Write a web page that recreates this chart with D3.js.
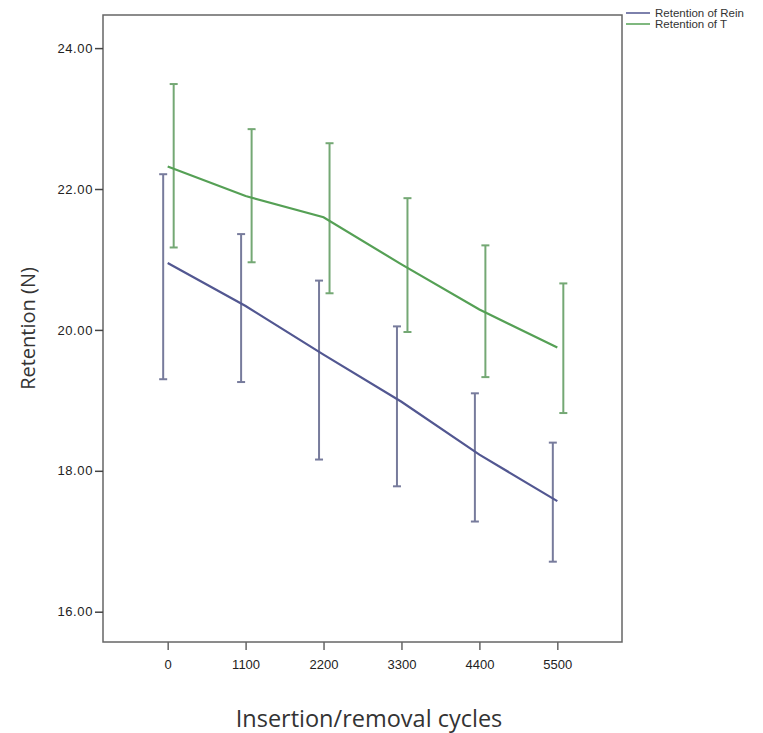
<!DOCTYPE html>
<html>
<head>
<meta charset="utf-8">
<script src="https://cdn.jsdelivr.net/npm/d3@7"></script>
<style>
    body { margin: 0; background: #fff; }
    svg { display: block; }
</style>
</head>
<body>
<div id="vis"></div>
<script>
// data
var cycles = ["0", "1100", "2200", "3300", "4400", "5500"];
var seriesNames = ["Retention of Rein", "Retention of T"];

var reinMean  = [20.95, 20.34, 19.65, 18.98, 18.23, 17.57];
var reinLower = [19.30, 19.26, 18.16, 17.78, 17.28, 16.71];
var reinUpper = [22.21, 21.36, 20.70, 20.05, 19.10, 18.40];

var tMean  = [22.32, 21.90, 21.60, 20.93, 20.29, 19.75];
var tLower = [21.17, 20.96, 20.52, 19.97, 19.33, 18.82];
var tUpper = [23.49, 22.85, 22.65, 21.87, 21.20, 20.66];

var yTicks = [16, 18, 20, 22, 24];

function drawChart() {
    var w = 763;
    var h = 733;
    var margin = {top: 15, right: 141, bottom: 91, left: 103};

    var svg = d3.select("#vis")
                .append("svg")
                .attr("width", w)
                .attr("height", h);

    var plotW = w - margin.left - margin.right;
    var plotH = h - margin.top - margin.bottom;

    var xScale = d3.scalePoint()
                    .domain(cycles)
                    .range([0, plotW])
                    .padding(0.83);

    var yScale = d3.scaleLinear()
                    .domain([15.57, 24.47])
                    .range([plotH, 0]);

    var colors = ["#525791", "#55a055"];
    var barColors = ["#777b9c", "#74a874"];
    var offsets = [-4.5, 6];   // error bars sit a little apart

    var series = [
        {name: seriesNames[0], mean: reinMean, lo: reinLower, hi: reinUpper},
        {name: seriesNames[1], mean: tMean, lo: tLower, hi: tUpper}
    ];

    var g = svg.append("g")
                .attr("transform", "translate(" + margin.left + "," + margin.top + ")");

//frame
    g.append("rect")
        .attr("width", plotW)
        .attr("height", plotH)
        .attr("fill", "none")
        .attr("stroke", "#666")
        .attr("stroke-width", 1.5);

//y axis
    var yAxis = g.append("g")
                .call(d3.axisLeft(yScale)
                        .tickValues(yTicks)
                        .tickSize(8)
                        .tickFormat(d3.format(".2f")));
    yAxis.select(".domain").remove();
    yAxis.selectAll("line").attr("stroke", "#444").attr("stroke-width", 1.5);
    yAxis.selectAll("text")
            .attr("x", -10)
            .attr("fill", "#222")
            .style("font-family", "Liberation Sans, Arial, sans-serif")
            .style("font-size", "13px")
            .style("letter-spacing", "0.6px");

//x axis
    var xAxis = g.append("g")
                .attr("transform", "translate(0," + plotH + ")")
                .call(d3.axisBottom(xScale).tickSize(8));
    xAxis.select(".domain").remove();
    xAxis.selectAll("line").attr("stroke", "#666").attr("stroke-width", 1.5);
    xAxis.selectAll("text")
            .attr("y", 18)
            .attr("fill", "#222")
            .style("font-family", "Liberation Sans, Arial, sans-serif")
            .style("font-size", "13px");

//error bars
    series.forEach(function(s, k) {
        var bars = g.append("g")
                    .selectAll("g")
                    .data(cycles)
                    .enter()
                    .append("g")
                    .attr("stroke", barColors[k])
                    .attr("stroke-width", 2);

        bars.append("line")
            .attr("x1", function(d) { return xScale(d) + offsets[k]; })
            .attr("x2", function(d) { return xScale(d) + offsets[k]; })
            .attr("y1", function(d, i) { return yScale(s.hi[i]); })
            .attr("y2", function(d, i) { return yScale(s.lo[i]); });

        // caps
        ["hi", "lo"].forEach(function(key) {
            bars.append("line")
                .attr("x1", function(d) { return xScale(d) + offsets[k] - 4; })
                .attr("x2", function(d) { return xScale(d) + offsets[k] + 4; })
                .attr("y1", function(d, i) { return yScale(s[key][i]); })
                .attr("y2", function(d, i) { return yScale(s[key][i]); });
        });
    });

//mean lines
    var line = d3.line()
                .x(function(d, i) { return xScale(cycles[i]); })
                .y(function(d) { return yScale(d); });

    series.forEach(function(s, k) {
        g.append("path")
            .datum(s.mean)
            .attr("d", line)
            .attr("fill", "none")
            .attr("stroke", colors[k])
            .attr("stroke-width", 2.2);
    });

//axis titles
    svg.append("text")
        .attr("transform", "translate(35," + (margin.top + plotH / 2) + ")rotate(-90)")
        .attr("text-anchor", "middle")
        .attr("fill", "#333")
        .style("font-family", "Open Sans, sans-serif")
        .style("font-size", "20px")
        .text("Retention (N)");

    svg.append("text")
        .attr("x", 369)
        .attr("y", 727)
        .attr("text-anchor", "middle")
        .attr("fill", "#333")
        .style("font-family", "Open Sans, sans-serif")
        .style("font-size", "23.5px")
        .text("Insertion/removal cycles");

// legend
    var legend = svg.append("g")
                    .selectAll("g")
                    .data(series)
                    .enter()
                    .append("g")
                    .attr("transform", function(d, i) {
                        return "translate(" + (w - margin.right + 4) + "," + (13 + i * 11) + ")";
                    });

    legend.append("line")
            .attr("x2", 24)
            .attr("stroke", function(d, i) { return colors[i]; })
            .attr("stroke-width", 1.5);

    legend.append("text")
            .attr("x", 29)
            .attr("dy", "0.35em")
            .attr("fill", "#333")
            .style("font-family", "Liberation Sans, Arial, sans-serif")
            .style("font-size", "11.5px")
            .text(function(d) { return d.name; });
}

window.onload = drawChart;
</script>
</body>
</html>
